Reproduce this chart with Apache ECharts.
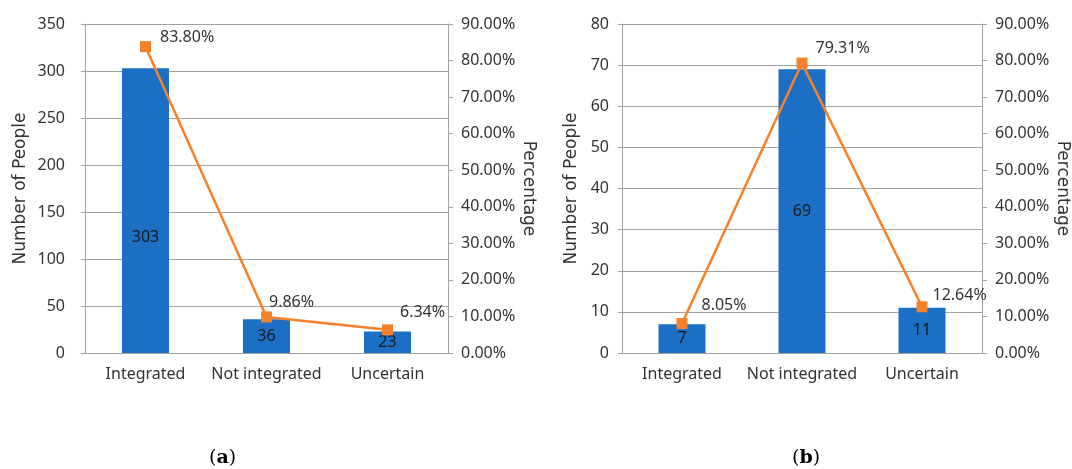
<!DOCTYPE html>
<html>
<head>
<meta charset="utf-8">
<script src="https://cdn.jsdelivr.net/npm/echarts@6/dist/echarts.min.js"></script>
<style>
  body { margin: 0; background: #fff; }
  #main { width: 1072px; height: 469px; }
</style>
</head>
<body>
<div id="main"></div>
<script>
// categories shared by both panels
const categories = ['Integrated', 'Not integrated', 'Uncertain'];

// panel (a)
const peopleA = [303, 36, 23];
const percentA = [83.80, 9.86, 6.34];

// panel (b)
const peopleB = [7, 69, 11];
const percentB = [8.05, 79.31, 12.64];

// axis ranges / ticks
const countMaxA = 350, countStepA = 50;
const countMaxB = 80, countStepB = 10;
const pctMax = 90, pctStep = 10;

const blue = '#1b6fc5';
const orange = '#f5812b';
const gridGray = '#a3a3a3';
const textColor = '#333';
const tickFont = { fontFamily: 'Noto Sans', fontSize: 16, color: textColor };

let myChart = echarts.init(document.getElementById('main'));

function xAx(gridIndex) {
  return {
    type: 'category',
    gridIndex: gridIndex,
    data: categories,
    axisLine: { lineStyle: { color: gridGray } },
    axisTick: { length: 6, lineStyle: { color: gridGray } },
    axisLabel: Object.assign({ margin: 13, interval: 0, hideOverlap: false }, tickFont)
  };
}

function countAx(gridIndex, max, step, labelMargin, nameGap) {
  return {
    type: 'value',
    gridIndex: gridIndex,
    position: 'left',
    min: 0, max: max, interval: step,
    name: 'Number of People',
    nameLocation: 'middle',
    nameGap: nameGap,
    nameTextStyle: { fontFamily: 'DejaVu Sans', fontSize: 17, color: textColor },
    axisLine: { show: true, lineStyle: { color: gridGray } },
    axisTick: { show: true, length: 4, lineStyle: { color: gridGray } },
    axisLabel: Object.assign({ margin: labelMargin }, tickFont),
    splitLine: { lineStyle: { color: gridGray } }
  };
}

function pctAx(gridIndex) {
  return {
    type: 'value',
    gridIndex: gridIndex,
    position: 'right',
    min: 0, max: pctMax, interval: pctStep,
    name: 'Percentage',
    nameLocation: 'middle',
    nameRotate: -90,
    nameGap: 72,
    nameTextStyle: { fontFamily: 'DejaVu Sans', fontSize: 17, color: textColor },
    axisLine: { show: true, lineStyle: { color: gridGray } },
    axisTick: { show: true, length: 5, lineStyle: { color: gridGray } },
    axisLabel: Object.assign({ margin: 13, formatter: v => v.toFixed(2) + '%' }, tickFont),
    splitLine: { show: false }
  };
}

function barSeries(idx, values, labelShift) {
  return {
    type: 'bar',
    xAxisIndex: idx, yAxisIndex: idx * 2,
    barWidth: 47,
    itemStyle: { color: blue },
    label: { show: true, position: 'inside', fontFamily: 'Noto Sans', fontSize: 16, color: '#1a1a1a' },
    data: values.map((v, i) => labelShift[i] ? { value: v, label: { offset: [0, labelShift[i]] } } : v)
  };
}

function lineSeries(idx, values, nudges) {
  return {
    type: 'line',
    xAxisIndex: idx, yAxisIndex: idx * 2 + 1,
    symbol: 'rect', symbolSize: 11,
    lineStyle: { color: orange, width: 2.5 },
    itemStyle: { color: orange },
    z: 5,
    label: {
      show: true, position: 'right', distance: 5,
      fontFamily: 'Noto Sans', fontSize: 16, color: textColor,
      formatter: p => p.value.toFixed(2) + '%'
    },
    data: values.map((v, i) => ({ value: v, label: { offset: nudges[i] } }))
  };
}

function caption(letter, left) {
  return {
    text: '{p|(}{b|' + letter + '}{p|)}', left: left, top: 444,
    textStyle: { fontWeight: 'normal', rich: {
      p: { fontFamily: 'DejaVu Serif', fontSize: 19, fontWeight: 'normal', color: '#000' },
      b: { fontFamily: 'DejaVu Serif', fontSize: 19, fontWeight: 'bold', color: '#000' } } }
  };
}

let option = {
  backgroundColor: '#fff',
  animation: false,
  title: [caption('a', 204), caption('b', 787)],
  grid: [
    { left: 85, right: 624, top: 24, bottom: 116 },
    { left: 622, right: 87, top: 24, bottom: 116 }
  ],
  xAxis: [xAx(0), xAx(1)],
  yAxis: [
    countAx(0, countMaxA, countStepA, 20, 56),
    pctAx(0),
    countAx(1, countMaxB, countStepB, 13, 42),
    pctAx(1)
  ],
  series: [
    barSeries(0, peopleA, [27, 0, 0]),
    lineSeries(0, percentA, [[4, -9], [-8, -15], [2, -17]]),
    barSeries(1, peopleB, [0, 0, 0]),
    lineSeries(1, percentB, [[9, -18], [3, -15], [0, -11]])
  ]
};

myChart.setOption(option);
</script>
</body>
</html>
